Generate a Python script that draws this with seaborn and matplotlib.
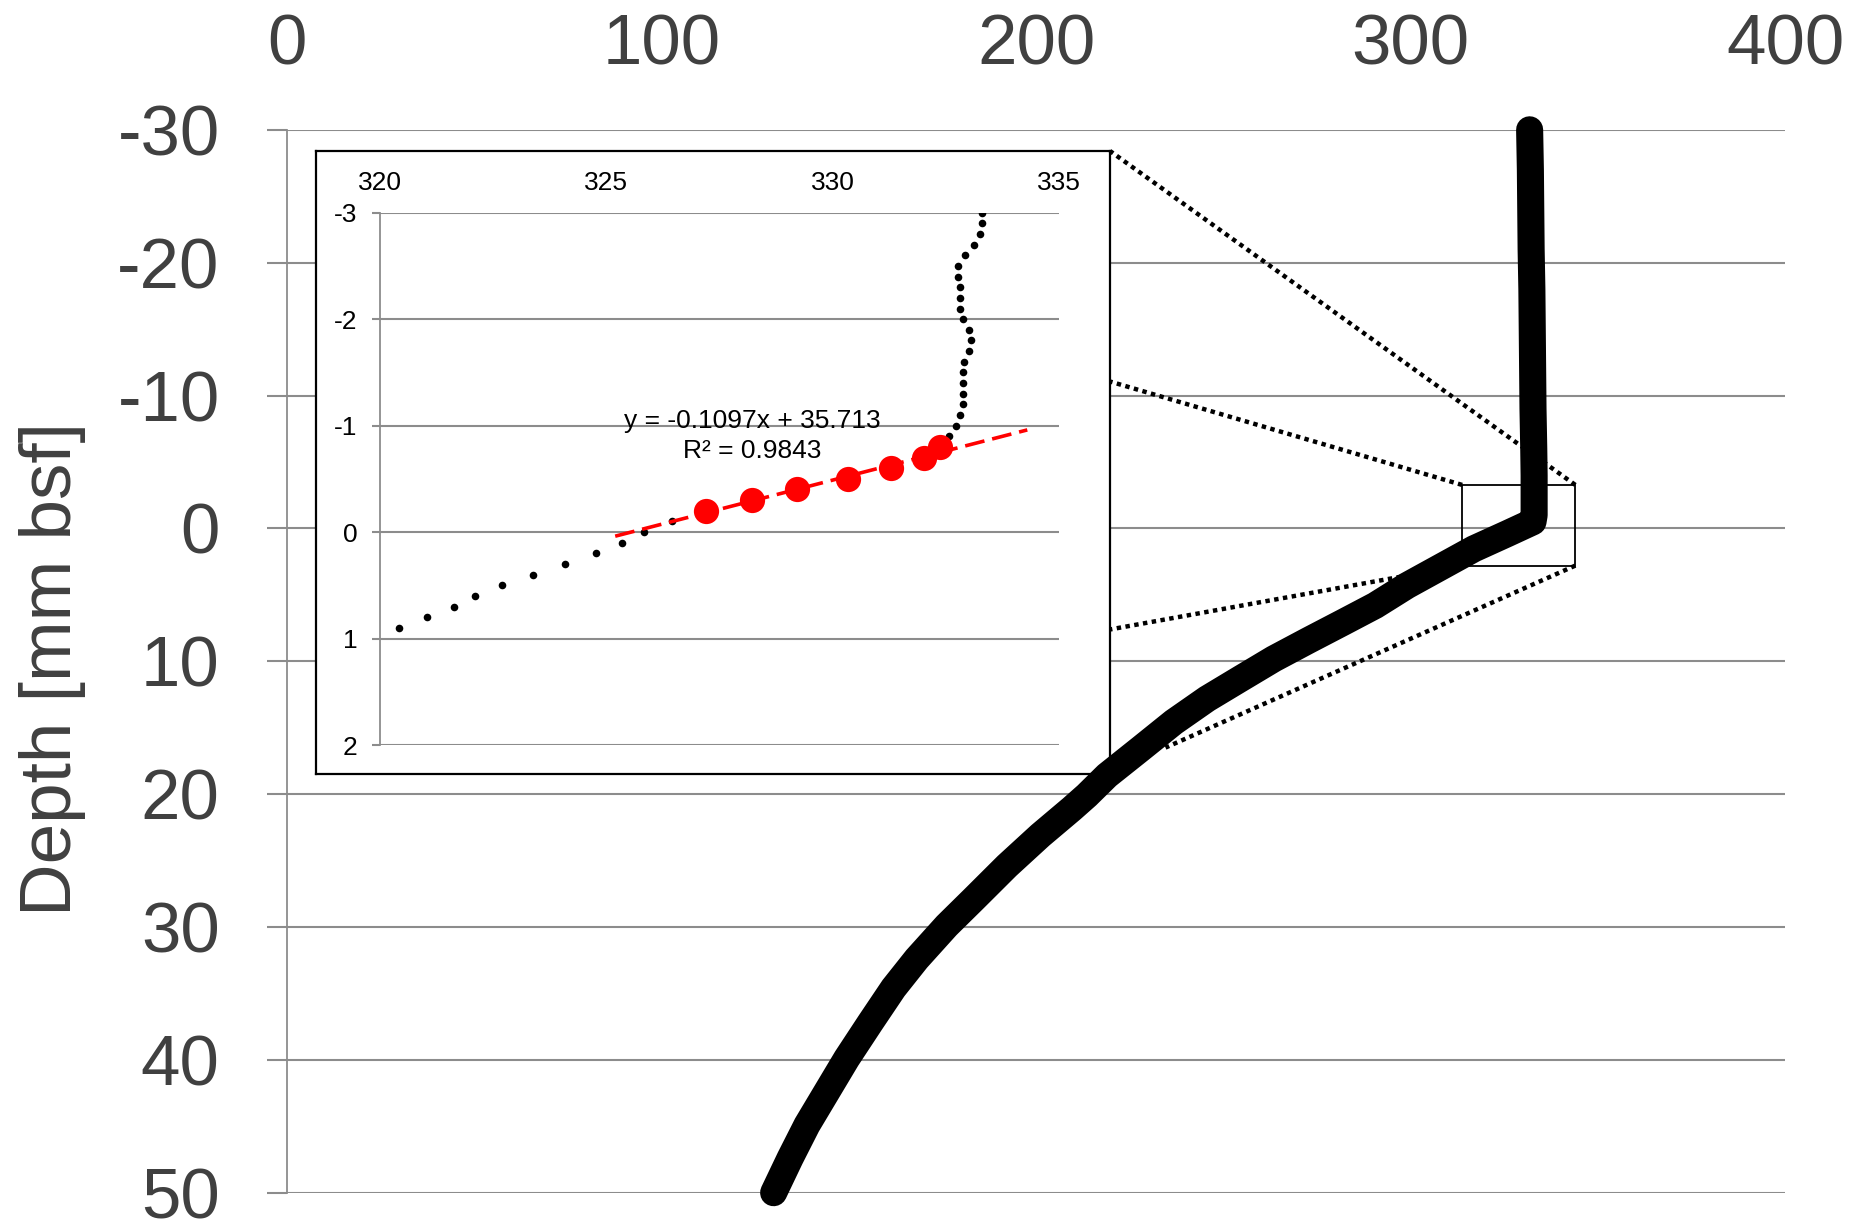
import matplotlib
matplotlib.use("Agg")
import matplotlib.pyplot as plt
import seaborn as sns
import numpy as np
from matplotlib.patches import Rectangle

# ---- full profile: depth [mm bsf] vs measured value ----
profile_depth = [-30, -27, -24, -21, -18, -15, -12, -9, -6, -4, -2, -1, -0.5,
                 0.4, 1.54, 2.92, 4.3, 5.8, 7.06, 8.44, 9.82, 11.32, 12.83,
                 14.58, 16.6, 18.6, 20.1, 21.1, 23.1, 25.4, 27.9, 29.9, 32.4,
                 34.6, 37.2, 39.9, 42.4, 44.9, 47.4, 50.0]
profile_value = [331.7, 331.9, 332.0, 332.1, 332.3, 332.4, 332.5, 332.6, 332.8,
                 332.9, 332.9, 332.9, 332.6,
                 325.7, 316.8, 307.9, 299.0, 290.5, 282.0, 272.6, 263.4, 254.5,
                 245.6, 236.7, 227.8, 218.9, 213.5, 209.5, 201.1, 192.2, 183.3,
                 176.1, 168.1, 161.9, 155.7, 149.4, 144.1, 138.8, 134.3, 129.9]

# ---- close-up around the interface (0.1 mm steps) ----
zoom_depth = [-3.0, -2.9, -2.8, -2.7, -2.6, -2.5, -2.4, -2.3, -2.2, -2.1, -2.0,
              -1.9, -1.8, -1.7, -1.6, -1.5, -1.4, -1.3, -1.2, -1.1, -1.0, -0.9,
              -0.1, 0.0, 0.1, 0.2, 0.3, 0.4, 0.5, 0.6, 0.7, 0.8, 0.9]
zoom_value = [333.31, 333.31, 333.25, 333.12, 332.92, 332.78, 332.78, 332.81,
              332.81, 332.81, 332.87, 333.01, 333.06, 333.01, 332.91, 332.87,
              332.87, 332.87, 332.87, 332.81, 332.72, 332.58,
              326.46, 325.83, 325.35, 324.78, 324.09, 323.39, 322.71, 322.10,
              321.63, 321.05, 320.42]

# points used for the linear fit
fit_depth = [-0.8, -0.7, -0.6, -0.5, -0.4, -0.3, -0.2]
fit_value = [332.38, 332.01, 331.29, 330.33, 329.22, 328.22, 327.21]
slope, intercept, r_squared = -0.1097, 35.713, 0.9843
fit_range = [325.2, 334.3]

main_xticks = [0, 100, 200, 300, 400]
main_yticks = [-30, -20, -10, 0, 10, 20, 30, 40, 50]
zoom_xticks = [320, 325, 330, 335]
zoom_yticks = [-3, -2, -1, 0, 1, 2]

# outline of the enlarged region on the main profile
zoom_box = (313.7, 343.9, -3.27, 2.8)

sns.set_theme(style="white")
plt.rcParams["font.family"] = ["Liberation Sans", "DejaVu Sans"]
plt.rcParams["axes.unicode_minus"] = False

GRID = "#8C8C8C"
TXT = "#404040"

fig = plt.figure(figsize=(18.52, 12.22), dpi=100)
fig.patch.set_facecolor("white")

main_rect = [0.15497, 0.02398, 0.80912, 0.8698]

# ---- main axes ----
ax = fig.add_axes(main_rect, zorder=0)
ax.set_facecolor("white")
ax.set_xlim(0, 400)
ax.set_ylim(50, -30)
ax.set_xticks(main_xticks)
ax.set_yticks(main_yticks)
ax.xaxis.tick_top()
ax.tick_params(axis="x", length=0, pad=36, labelsize=51, labelcolor=TXT)
ax.tick_params(axis="y", direction="out", length=14.5, width=1.5, color=GRID,
               pad=34, labelsize=51, labelcolor=TXT, left=True)
ax.yaxis.grid(True, color=GRID, lw=1.5)
ax.xaxis.grid(False)
for s in ["top", "right", "bottom"]:
    ax.spines[s].set_visible(False)
ax.spines["left"].set_color(GRID)
ax.spines["left"].set_linewidth(1.3)
ax.set_ylabel("Depth [mm bsf]", fontsize=52.5, color=TXT)
ax.yaxis.set_label_coords(-0.134, 0.493)

# ---- frame around the close-up ----
ax_frame = fig.add_axes([0.17063, 0.36661, 0.42872, 0.50982], zorder=1)
ax_frame.set_facecolor("white")
ax_frame.set_xticks([])
ax_frame.set_yticks([])
for s in ax_frame.spines.values():
    s.set_color("black")
    s.set_linewidth(1.6)

# ---- close-up axes ----
ax_in = fig.add_axes([0.20502, 0.39034, 0.36679, 0.4356], zorder=2)
ax_in.set_facecolor("white")
ax_in.set_xlim(320, 335)
ax_in.set_ylim(2, -3)
ax_in.set_xticks(zoom_xticks)
ax_in.set_yticks(zoom_yticks)
ax_in.xaxis.tick_top()
ax_in.tick_params(axis="x", length=0, pad=13, labelsize=19, labelcolor="black")
ax_in.tick_params(axis="y", direction="out", length=5.5, width=1.5, color=GRID,
                  pad=10.5, labelsize=19, labelcolor="black", left=True)
ax_in.yaxis.grid(True, color=GRID, lw=1.5)
ax_in.xaxis.grid(False)
for s in ["top", "right", "bottom"]:
    ax_in.spines[s].set_visible(False)
ax_in.spines["left"].set_color(GRID)
ax_in.spines["left"].set_linewidth(1.3)

sns.scatterplot(x=zoom_value, y=zoom_depth, color="black", s=30, linewidth=0,
                ax=ax_in, zorder=2, legend=False)
fit_x = np.array(fit_range)
fit_y = slope * fit_x + intercept
sns.lineplot(x=fit_x, y=fit_y, color="#FF0000", lw=2.6, sort=False,
             estimator=None, ax=ax_in, zorder=3, linestyle=(0, (5.5, 2.2)))
sns.scatterplot(x=fit_value, y=fit_depth, color="#FF0000", s=330, linewidth=0,
                ax=ax_in, zorder=4, legend=False)
ax_in.text(328.22, -0.90, f"y = {slope}x + {intercept}\nR² = {r_squared}",
           ha="center", va="center", multialignment="center", fontsize=19,
           linespacing=1.3, color="black", zorder=5)
ax_in.set_xlabel("")
ax_in.set_ylabel("")

# ---- overlay: profile, zoom box and connector lines on top ----
ax_top = fig.add_axes(main_rect, zorder=3)
ax_top.set_facecolor("none")
ax_top.set_xlim(0, 400)
ax_top.set_ylim(50, -30)

x0, x1, y0, y1 = zoom_box
ax_top.add_patch(Rectangle((x0, y0), x1 - x0, y1 - y0, fill=False,
                           edgecolor="black", lw=1.3, zorder=2))


def frame_point(fx, fy):
    """Point on the close-up frame, expressed in profile data coordinates."""
    disp = ax_frame.transAxes.transform((fx, fy))
    return ax_top.transData.inverted().transform(disp)


links = [
    ((x1, y0), frame_point(1.0, 1.0)),
    ((x0, y0), frame_point(1.0, 0.630)),
    ((x0, y1), frame_point(1.0, 0.232)),
    ((x1, y1), (234.5, 16.5)),
]
for (ax_, ay_), (bx_, by_) in links:
    ax_top.plot([ax_, bx_], [ay_, by_], color="black", lw=3.2,
                linestyle=(0, (1, 1)), dash_capstyle="butt", zorder=1,
                clip_on=False)

sns.lineplot(x=profile_value, y=profile_depth, sort=False, estimator=None,
             color="black", lw=19.5, ax=ax_top, zorder=5)
prof_line = ax_top.lines[-1]
prof_line.set_solid_capstyle("round")
prof_line.set_solid_joinstyle("round")
prof_line.set_clip_on(False)
ax_top.set_xlabel("")
ax_top.set_ylabel("")
ax_top.axis("off")

fig.savefig("out.png", dpi=100, facecolor="white")
